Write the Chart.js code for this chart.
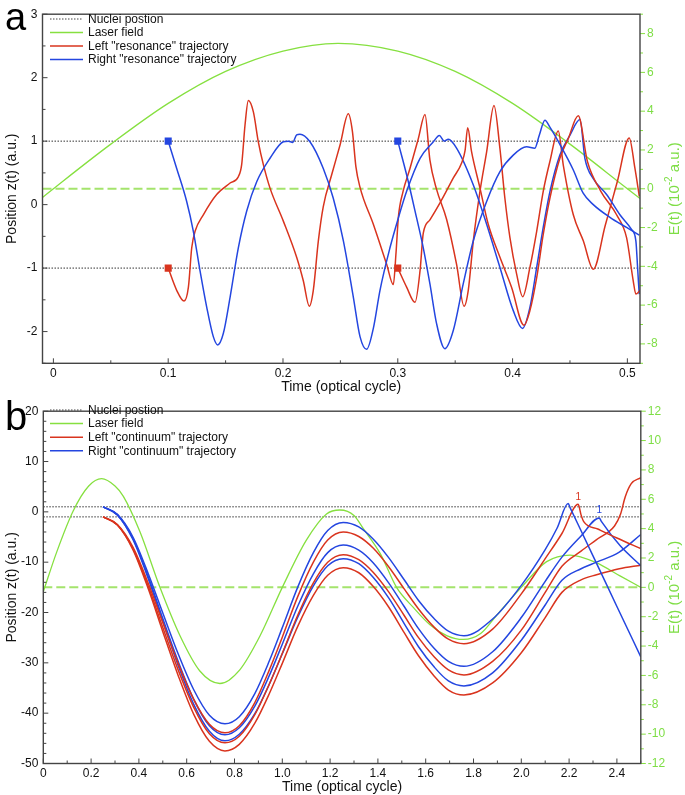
<!DOCTYPE html>
<html>
<head>
<meta charset="utf-8">
<script src="https://cdn.jsdelivr.net/npm/chart.js@4.4.0/dist/chart.umd.min.js"></script>
<style>
  body { margin: 0; background: #fff; }
  #wrap { position: relative; width: 685px; height: 795px; }
  canvas { position: absolute; left: 0; }
</style>
</head>
<body>
<div id="wrap">
  <canvas id="chartA" width="685" height="397" style="top:0px"></canvas>
  <canvas id="chartB" width="685" height="398" style="top:397px"></canvas>
</div>
<script>
// ---------- panel a : "resonance" trajectories ----------
const timeTicksA = [0, 0.1, 0.2, 0.3, 0.4, 0.5];
const zTicksA = [-2, -1, 0, 1, 2, 3];
const eTicksA = [-8, -6, -4, -2, 0, 2, 4, 6, 8];

const laserTimeA = [-0.0095, 0, 0.05, 0.1, 0.15, 0.2, 0.248, 0.3, 0.35, 0.4, 0.45, 0.5, 0.511];
const laserFieldA = [-0.45, 0, 2.3, 4.4, 6.05, 7.1, 7.5, 7.1, 6.05, 4.4, 2.3, 0, -0.5];

// left "resonance" trajectories (start at z=-1)
const leftRes1 = [[0.1,-1],[0.1074,-1.35],[0.1138,-1.52],[0.1176,-1.30],[0.1205,-0.68],[0.1234,-0.42],[0.1306,-0.16],[0.1422,0.16],[0.1539,0.34],[0.1611,0.44],[0.164,0.63],[0.1669,1.25],[0.1698,1.64],[0.1742,1.46],[0.1785,0.99],[0.1829,0.63],[0.1887,0.26],[0.2003,-0.26],[0.2119,-0.83],[0.2177,-1.2],[0.2229,-1.6],[0.2264,-1.35],[0.2308,-0.57],[0.2351,-0.03],[0.2424,0.47],[0.2497,0.94],[0.2569,1.43],[0.2605,1.15],[0.2635,0.6],[0.267,0.28],[0.2787,-0.31],[0.2903,-0.94],[0.2961,-1.26],[0.2985,-0.75],[0.3005,-0.2],[0.3045,0.2],[0.3106,0.57],[0.3179,1.04],[0.3237,1.42],[0.328,0.7],[0.3338,0.24],[0.3425,-0.23],[0.3513,-0.95],[0.3577,-1.6],[0.3614,-1.35],[0.3658,-0.57],[0.3716,0.21],[0.3774,0.83],[0.3838,1.56],[0.389,0.88],[0.3933,0.1],[0.3977,-0.52],[0.4035,-1.09],[0.4088,-1.45],[0.4151,-0.99],[0.421,-0.42],[0.4267,0.21],[0.4325,0.68],[0.4398,1.16],[0.4442,0.62],[0.4529,-0.16],[0.4616,-0.57],[0.4703,-1.02],[0.4807,-0.33],[0.4912,0.36],[0.5016,1.05],[0.5066,0.57],[0.5104,0.13]];
const leftRes2 = [[0.3,-1],[0.3077,-1.3],[0.315,-1.54],[0.3194,-1.04],[0.3222,-0.45],[0.328,-0.24],[0.3375,0.05],[0.3484,0.42],[0.3557,0.66],[0.3586,0.85],[0.3609,1.21],[0.3643,0.83],[0.3716,0.26],[0.3788,-0.31],[0.389,-0.83],[0.3991,-1.3],[0.4099,-1.9],[0.4151,-1.67],[0.421,-1.15],[0.4267,-0.47],[0.4325,0.1],[0.4412,0.73],[0.4485,1.04],[0.4572,1.4],[0.4652,0.68],[0.4769,0.21],[0.4906,-0.16],[0.4993,-0.52],[0.5051,-1.2],[0.5074,-1.41],[0.511,-1.35]];
// right "resonance" trajectories (start at z=+1)
const rightRes1 = [[0.1,1],[0.1074,0.57],[0.1161,0.05],[0.1219,-0.42],[0.1277,-1.04],[0.1335,-1.61],[0.1393,-2.08],[0.1431,-2.21],[0.148,-2.03],[0.1539,-1.46],[0.1611,-0.68],[0.1684,-0.1],[0.1771,0.36],[0.1887,0.73],[0.2003,0.99],[0.2047,1.0],[0.2085,0.98],[0.2119,1.1],[0.2148,1.11],[0.2235,0.99],[0.2351,0.57],[0.2438,0.1],[0.2526,-0.57],[0.2613,-1.46],[0.2671,-2.08],[0.2729,-2.28],[0.2787,-1.95],[0.2845,-1.35],[0.2932,-0.68],[0.3005,-0.21],[0.3077,0.21],[0.3194,0.73],[0.331,0.99],[0.3362,1.09],[0.3405,1.0],[0.344,1.03],[0.3512,0.89],[0.3658,0.31],[0.3774,-0.31],[0.389,-0.99],[0.4006,-1.67],[0.4087,-1.95],[0.4151,-1.62],[0.421,-0.99],[0.4267,-0.36],[0.4325,0.2],[0.4412,0.78],[0.4499,1.09],[0.4587,1.34],[0.463,0.73],[0.4703,0.41],[0.4819,0.16],[0.4935,-0.16],[0.5036,-0.39],[0.5074,-0.57],[0.5089,-0.99],[0.5103,-1.41]];
const rightRes2 = [[0.3,1],[0.3077,0.47],[0.3164,-0.21],[0.3222,-0.68],[0.328,-1.25],[0.3338,-1.875],[0.341,-2.27],[0.3484,-1.98],[0.357,-1.25],[0.3658,-0.57],[0.3774,0.05],[0.389,0.52],[0.4006,0.78],[0.4122,0.91],[0.4194,0.89],[0.4232,1.09],[0.4282,1.33],[0.4325,1.22],[0.4412,0.95],[0.4528,0.55],[0.4615,0.18],[0.4703,0.0],[0.4848,-0.2],[0.4993,-0.36],[0.5104,-0.48]];

// ---------- panel b : "continuum" trajectories ----------
const timeTicksB = [0, 0.2, 0.4, 0.6, 0.8, 1, 1.2, 1.4, 1.6, 1.8, 2, 2.2, 2.4];
const zTicksB = [-50, -40, -30, -20, -10, 0, 10, 20];
const eTicksB = [-12, -10, -8, -6, -4, -2, 0, 2, 4, 6, 8, 10, 12];

const laserTimeB = [0, 0.056, 0.125, 0.19, 0.244, 0.3, 0.335, 0.404, 0.488, 0.572, 0.655, 0.739, 0.823, 0.907, 1.0, 1.1, 1.185, 1.241, 1.3, 1.339, 1.41, 1.478, 1.55, 1.618, 1.69, 1.757, 1.83, 1.897, 2.0, 2.106, 2.204, 2.315, 2.413, 2.5];
const laserFieldB = [-0.3, 2.4, 5.2, 6.9, 7.4, 6.9, 6.2, 3.8, 0, -3.3, -5.7, -6.55, -5.6, -3.3, 0, 3.2, 5.0, 5.27, 4.9, 4.0, 2.3, 0, -1.4, -2.55, -3.3, -3.55, -3.15, -1.9, 0, 1.75, 2.2, 1.67, 0.78, 0];

const timeB = [0.25, 0.31, 0.375, 0.44, 0.5, 0.565, 0.63, 0.695, 0.76, 0.82, 0.885, 0.945, 1.0, 1.065, 1.13, 1.19, 1.255, 1.32, 1.38, 1.445, 1.51, 1.57, 1.635, 1.695, 1.76, 1.88, 2.0, 2.1];
const rightCont1 = [1, -0.5, -5.0, -12.4, -20.1, -28.3, -35.4, -40.4, -42.1, -40.7, -36.1, -29.7, -23.0, -14.9, -8.1, -3.7, -2.1, -3.0, -5.4, -9.1, -13.5, -17.6, -21.2, -23.7, -24.6, -21.3, -14.6, -7.5];
const rightCont1End = [[2.15,-3.2],[2.196,1.65],[2.205,0.75],[2.3,-8.75],[2.4,-18.8],[2.5,-28.8]];
const leftCont1 = [-1, -2.5, -7.0, -14.3, -22.0, -30.2, -37.3, -42.2, -43.9, -42.5, -37.9, -31.5, -24.9, -16.8, -10.0, -5.6, -4.0, -4.9, -7.2, -10.9, -15.3, -19.3, -22.9, -25.3, -26.2, -23.3, -16.3, -9.3];
const leftCont1End = [[2.17,-4.3],[2.238,1.5],[2.25,-0.6],[2.262,-2.0],[2.32,-3.4],[2.4,-5.2],[2.5,-7.3]];
const rightCont2 = [1, -0.6, -5.3, -13.0, -21.2, -29.8, -37.3, -42.5, -44.3, -42.9, -38.6, -32.6, -26.3, -18.7, -12.3, -8.1, -6.6, -7.6, -10.1, -14.1, -18.8, -23.2, -27.1, -29.7, -30.7, -27.8, -21.0, -13.8];
const rightCont2End = [[2.17,-9.0],[2.25,-4.8],[2.326,-1.2],[2.335,-1.9],[2.413,-6.7],[2.5,-10.7]];
const leftCont2 = [-1, -2.6, -7.3, -14.9, -23.0, -31.5, -38.9, -44.1, -45.9, -44.6, -40.3, -34.3, -28.1, -20.5, -14.1, -10.0, -8.5, -9.5, -12.0, -15.9, -20.6, -25.0, -28.8, -31.4, -32.4, -29.7, -23.5, -16.0];
const leftCont2End = [[2.17,-10.8],[2.25,-7.8],[2.315,-5.5],[2.39,-2.8],[2.415,-0.5],[2.435,3.0],[2.46,5.6],[2.5,6.8]];
const rightCont3 = [1, -0.6, -5.5, -13.4, -21.8, -30.6, -38.3, -43.6, -45.5, -44.2, -40.1, -34.3, -28.2, -20.9, -14.7, -10.7, -9.3, -10.3, -13.0, -17.1, -22.2, -26.8, -30.8, -33.6, -34.6, -32.0, -25.5, -18.5];
const rightCont3End = [[2.17,-13.6],[2.25,-11.3],[2.315,-10.0],[2.41,-8.0],[2.5,-4.5]];
const leftCont3 = [-1, -2.6, -7.5, -15.4, -23.8, -32.6, -40.3, -45.6, -47.5, -46.2, -42.0, -36.2, -30.1, -22.7, -16.6, -12.6, -11.1, -12.1, -14.8, -18.9, -24.0, -28.6, -32.6, -35.4, -36.4, -34.0, -28.0, -21.0];
const leftCont3End = [[2.17,-16.0],[2.25,-13.5],[2.315,-12.5],[2.41,-11.3],[2.5,-10.6]];

// small "1" marks next to the first returns
const returnMarks = [{ t: 2.238, z: 2.9, side: 'left' }, { t: 2.326, z: 0.3, side: 'right' }];

// ---------- styles ----------
const RED = '#d9341e';
const BLUE = '#2446e0';
const GREEN = '#86e040';
const GREEN_TXT = '#7ede45';
const AXIS = '#444';
const FONT = "'Liberation Sans', Arial, Helvetica, sans-serif";

Chart.defaults.font.family = FONT;
Chart.defaults.font.size = 12;
Chart.defaults.color = '#111';

function pts(list) { return list.map(p => ({ x: p[0], y: p[1] })); }
function zipPts(xs, ys) { return xs.map((x, i) => ({ x: x, y: ys[i] })); }

function trajectory(data, color, marker) {
    return {
        data: data, borderColor: color, backgroundColor: color, borderWidth: 1.5,
        cubicInterpolationMode: 'monotone', yAxisID: 'y',
        pointRadius: marker ? (c => c.dataIndex === 0 ? 5 : 0) : 0,
        pointStyle: 'rect', pointBorderWidth: 0, pointBackgroundColor: color
    };
}
function flat(xmin, xmax, v, color, dash, width, axis) {
    return { data: [{ x: xmin, y: v }, { x: xmax, y: v }], borderColor: color, borderDash: dash,
             borderWidth: width, pointRadius: 0, yAxisID: axis };
}

const decor = {
    id: 'decor',
    afterDraw(chart, args, o) {
        const ctx = chart.ctx, a = chart.chartArea;
        const sx = chart.scales.x, sy = chart.scales.y, sr = chart.scales.yR;
        const line = (x1, y1, x2, y2) => { ctx.beginPath(); ctx.moveTo(x1, y1); ctx.lineTo(x2, y2); ctx.stroke(); };
        ctx.save();
        ctx.lineWidth = 1;
        ctx.strokeStyle = AXIS;
        for (let v = o.xMin0; v <= sx.max + 1e-9; v += o.xMinor) {
            const x = sx.getPixelForValue(v);
            const major = o.xTicks.some(t => Math.abs(t - v) < 1e-6);
            line(x, a.bottom, x, a.bottom - (major ? 5 : 3));
        }
        for (let v = sy.min; v <= sy.max + 1e-9; v += o.yMinor) {
            const y = sy.getPixelForValue(v);
            const major = o.yTicks.some(t => Math.abs(t - v) < 1e-6);
            line(a.left, y, a.left + (major ? 5 : 3), y);
        }
        ctx.strokeStyle = GREEN;
        for (let v = Math.ceil(sr.min); v <= sr.max + 1e-9; v += 1) {
            const y = sr.getPixelForValue(v);
            const major = o.eTicks.includes(v);
            line(a.right, y, a.right + (major ? 5 : 3), y);
        }
        // frame
        ctx.strokeStyle = AXIS;
        ctx.lineWidth = 1.4;
        ctx.strokeRect(a.left, a.top, a.right - a.left, a.bottom - a.top);

        // legend
        ctx.font = '12px ' + FONT;
        ctx.textBaseline = 'middle';
        ctx.textAlign = 'left';
        o.legend.forEach((item, i) => {
            const y = o.legendTop + i * o.legendStep;
            ctx.strokeStyle = item.color;
            ctx.lineWidth = item.width;
            ctx.setLineDash(item.dash || []);
            line(50, y, 83, y);
            ctx.setLineDash([]);
            ctx.fillStyle = '#111';
            ctx.fillText(item.text, 88, y + 0.5);
        });

        // panel letter
        ctx.fillStyle = '#000';
        ctx.textBaseline = 'alphabetic';
        ctx.font = o.letterSize + 'px ' + FONT;
        ctx.fillText(o.letter, 5, o.letterBase);

        // axis titles
        const cy = (a.top + a.bottom) / 2;
        ctx.font = '14px ' + FONT;
        ctx.textAlign = 'center';
        ctx.textBaseline = 'middle';
        ctx.fillStyle = '#111';
        ctx.fillText('Time (optical cycle)', (a.left + a.right) / 2, a.bottom + 23.5);
        ctx.save();
        ctx.translate(12, cy);
        ctx.rotate(-Math.PI / 2);
        ctx.fillText('Position z(t) (a.u.)', 0, 0);
        ctx.restore();

        ctx.save();
        ctx.translate(675, cy);
        ctx.rotate(-Math.PI / 2);
        ctx.fillStyle = GREEN_TXT;
        ctx.textAlign = 'left';
        const big = '15px ' + FONT, small = '10px ' + FONT;
        ctx.font = big; const w1 = ctx.measureText('E(t) (10').width; const w3 = ctx.measureText(' a.u.)').width;
        ctx.font = small; const w2 = ctx.measureText('-2').width;
        let x = -(w1 + w2 + w3) / 2;
        ctx.font = big; ctx.fillText('E(t) (10', x, 0); x += w1;
        ctx.font = small; ctx.fillText('-2', x, -6); x += w2;
        ctx.font = big; ctx.fillText(' a.u.)', x, 0);
        ctx.restore();

        // small return marks
        if (o.marks) {
            ctx.font = '10px ' + FONT;
            ctx.textAlign = 'center';
            o.marks.forEach(m => {
                ctx.fillStyle = m.side === 'left' ? RED : BLUE;
                ctx.fillText('1', sx.getPixelForValue(m.t), sy.getPixelForValue(m.z));
            });
        }
        ctx.restore();
    }
};

function axes(cfg) {
    const setTicks = list => s => { s.ticks = list.map(v => ({ value: v })); };
    return {
        x: {
            type: 'linear', min: cfg.xmin, max: cfg.xmax,
            afterBuildTicks: setTicks(cfg.xTicks),
            afterFit: s => { s.height = cfg.xHeight; },
            grid: { display: false, drawTicks: false }, border: { display: false },
            ticks: { padding: 3, maxRotation: 0, autoSkip: false, color: '#111', font: { size: 12 } }
        },
        y: {
            type: 'linear', position: 'left', min: cfg.ymin, max: cfg.ymax,
            afterBuildTicks: setTicks(cfg.yTicks),
            afterFit: s => { s.width = cfg.leftWidth; },
            grid: { display: false, drawTicks: false }, border: { display: false },
            ticks: { padding: 5, color: '#111', font: { size: 12 } }
        },
        yR: {
            type: 'linear', position: 'right', min: cfg.emin, max: cfg.emax,
            afterBuildTicks: setTicks(cfg.eTicks),
            afterFit: s => { s.width = cfg.rightWidth; },
            grid: { display: false, drawTicks: false }, border: { display: false },
            ticks: { padding: 7, color: GREEN_TXT, font: { size: 12 } }
        }
    };
}

// ---------- chart a ----------
const xminA = -0.0095, xmaxA = 0.511;
new Chart(document.getElementById('chartA'), {
    type: 'line',
    data: {
        datasets: [
            trajectory(pts(rightRes2), BLUE, true),
            trajectory(pts(leftRes2), RED, true),
            trajectory(pts(rightRes1), BLUE, true),
            trajectory(pts(leftRes1), RED, true),
            { data: zipPts(laserTimeA, laserFieldA), borderColor: GREEN, borderWidth: 1.3, pointRadius: 0,
              cubicInterpolationMode: 'monotone', yAxisID: 'yR' },
            flat(xminA, xmaxA, 0, '#a4e46c', [9, 4], 2, 'yR'),
            flat(xminA, xmaxA, 1, '#333', [1.5, 1.5], 1, 'y'),
            flat(xminA, xmaxA, -1, '#333', [1.5, 1.5], 1, 'y')
        ]
    },
    options: {
        responsive: false, animation: false,
        layout: { padding: { top: 11.3, left: 0, right: 0, bottom: 0 } },
        scales: axes({ xmin: xminA, xmax: xmaxA, xTicks: timeTicksA, xHeight: 33.7,
                       ymin: -2.5, ymax: 3, yTicks: zTicksA, leftWidth: 42.5,
                       emin: -9, emax: 9, eTicks: eTicksA, rightWidth: 45 }),
        plugins: {
            legend: { display: false }, tooltip: { enabled: false },
            decor: {
                xMin0: 0, xMinor: 0.05, xTicks: timeTicksA, yMinor: 0.5, yTicks: zTicksA, eTicks: eTicksA,
                legendTop: 19, legendStep: 13.5, letter: 'a', letterSize: 38, letterBase: 30,
                legend: [
                    { text: 'Nuclei postion', color: '#444', width: 1, dash: [1.5, 1.5] },
                    { text: 'Laser field', color: GREEN, width: 1.5 },
                    { text: 'Left "resonance" trajectory', color: RED, width: 1.5 },
                    { text: 'Right "resonance" trajectory', color: BLUE, width: 1.5 }
                ]
            }
        }
    },
    plugins: [decor]
});

// ---------- chart b ----------
const xminB = 0, xmaxB = 2.5;
new Chart(document.getElementById('chartB'), {
    type: 'line',
    data: {
        datasets: [
            trajectory(zipPts(timeB, rightCont1).concat(pts(rightCont1End)), BLUE, false),
            trajectory(zipPts(timeB, leftCont1).concat(pts(leftCont1End)), RED, false),
            trajectory(zipPts(timeB, rightCont2).concat(pts(rightCont2End)), BLUE, false),
            trajectory(zipPts(timeB, leftCont2).concat(pts(leftCont2End)), RED, false),
            trajectory(zipPts(timeB, rightCont3).concat(pts(rightCont3End)), BLUE, false),
            trajectory(zipPts(timeB, leftCont3).concat(pts(leftCont3End)), RED, false),
            { data: zipPts(laserTimeB, laserFieldB), borderColor: GREEN, borderWidth: 1.3, pointRadius: 0,
              cubicInterpolationMode: 'monotone', yAxisID: 'yR' },
            flat(xminB, xmaxB, 0, '#a4e46c', [9, 4], 2, 'yR'),
            flat(xminB, xmaxB, 1, '#333', [1.5, 1.5], 1, 'y'),
            flat(xminB, xmaxB, -1, '#333', [1.5, 1.5], 1, 'y')
        ]
    },
    options: {
        responsive: false, animation: false,
        layout: { padding: { top: 5, left: 0, right: 0, bottom: 0 } },
        scales: axes({ xmin: xminB, xmax: xmaxB, xTicks: timeTicksB, xHeight: 31.5,
                       ymin: -50, ymax: 20, yTicks: zTicksB, leftWidth: 43.3,
                       emin: -12, emax: 12, eTicks: eTicksB, rightWidth: 44.2 }),
        plugins: {
            legend: { display: false }, tooltip: { enabled: false },
            decor: {
                xMin0: 0, xMinor: 0.1, xTicks: timeTicksB, yMinor: 2, yTicks: zTicksB, eTicks: eTicksB,
                legendTop: 13, legendStep: 13.6, letter: 'b', letterSize: 40, letterBase: 33,
                marks: returnMarks,
                legend: [
                    { text: 'Nuclei postion', color: '#444', width: 1, dash: [1.5, 1.5] },
                    { text: 'Laser field', color: GREEN, width: 1.5 },
                    { text: 'Left "continuum" trajectory', color: RED, width: 1.5 },
                    { text: 'Right "continuum" trajectory', color: BLUE, width: 1.5 }
                ]
            }
        }
    },
    plugins: [decor]
});
</script>
</body>
</html>
